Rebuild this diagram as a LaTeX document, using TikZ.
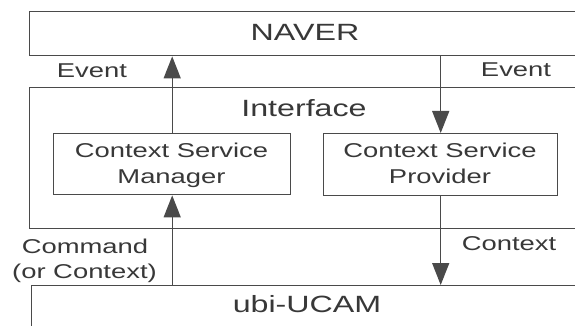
\documentclass[tikz,border=0pt]{standalone}
\usepackage{fontspec}
\setmainfont{Liberation Sans}
\usetikzlibrary{arrows.meta}
\definecolor{ln}{HTML}{4A4A4A}
\definecolor{tx}{HTML}{383838}
\newcommand{\sx}[1]{\scalebox{1.37}[1]{#1}}
\begin{document}
\begin{tikzpicture}[x=1pt,y=-1pt,
 box/.style={draw=ln,line width=1.4pt,inner sep=0pt,anchor=north west},
 big/.style={text=tx,font=\fontsize{23.5}{28}\selectfont,anchor=base,inner sep=0pt},
 lbl/.style={text=tx,font=\fontsize{20}{26}\selectfont,anchor=base,inner sep=0pt},
 arr/.style={draw=ln,line width=1.4pt,-{Triangle[length=22pt,width=17pt]}}]
\clip (0,0) rectangle (575,326);
\fill[white] (0,0) rectangle (575,326);
% boxes
\node[box,minimum width=580pt,minimum height=44pt] (naver) at (29,11) {};
\node[box,minimum width=580pt,minimum height=141pt] (iface) at (29,87) {};
\node[box,minimum width=580pt,minimum height=80pt] (ucam) at (31,285) {};
\node[box,minimum width=237pt,minimum height=61pt] (csm) at (53,133) {};
\node[box,minimum width=234pt,minimum height=62pt] (csp) at (323,133) {};
% texts
\node[big] (tnaver) at (305,41) {\sx{NAVER}};
\node[big] (tiface) at (304,117) {\sx{Interface}};
\node[big] (tucam) at (307,312) {\sx{ubi-UCAM}};
\node[lbl] (evl) at (92,78) {\sx{Event}};
\node[lbl] (evr) at (516,77) {\sx{Event}};
\node[lbl] (csm1) at (171.5,157) {\sx{Context Service}};
\node[lbl] (csm2) at (171.5,183) {\sx{Manager}};
\node[lbl] (csp1) at (440,157) {\sx{Context Service}};
\node[lbl] (csp2) at (440,183) {\sx{Provider}};
\node[lbl] (cmd1) at (85,253) {\sx{Command}};
\node[lbl] (cmd2) at (84.5,278) {\sx{(or Context)}};
\node[lbl] (ctx) at (509,250) {\sx{Context}};
% arrows
\draw[arr] (csm.north) -- (csm.north |- naver.south);
\draw[arr] (csm.south |- ucam.north) -- (csm.south);
\draw[arr] (csp.north |- naver.south) -- (csp.north);
\draw[arr] (csp.south) -- (csp.south |- ucam.north);
\end{tikzpicture}
\end{document}
